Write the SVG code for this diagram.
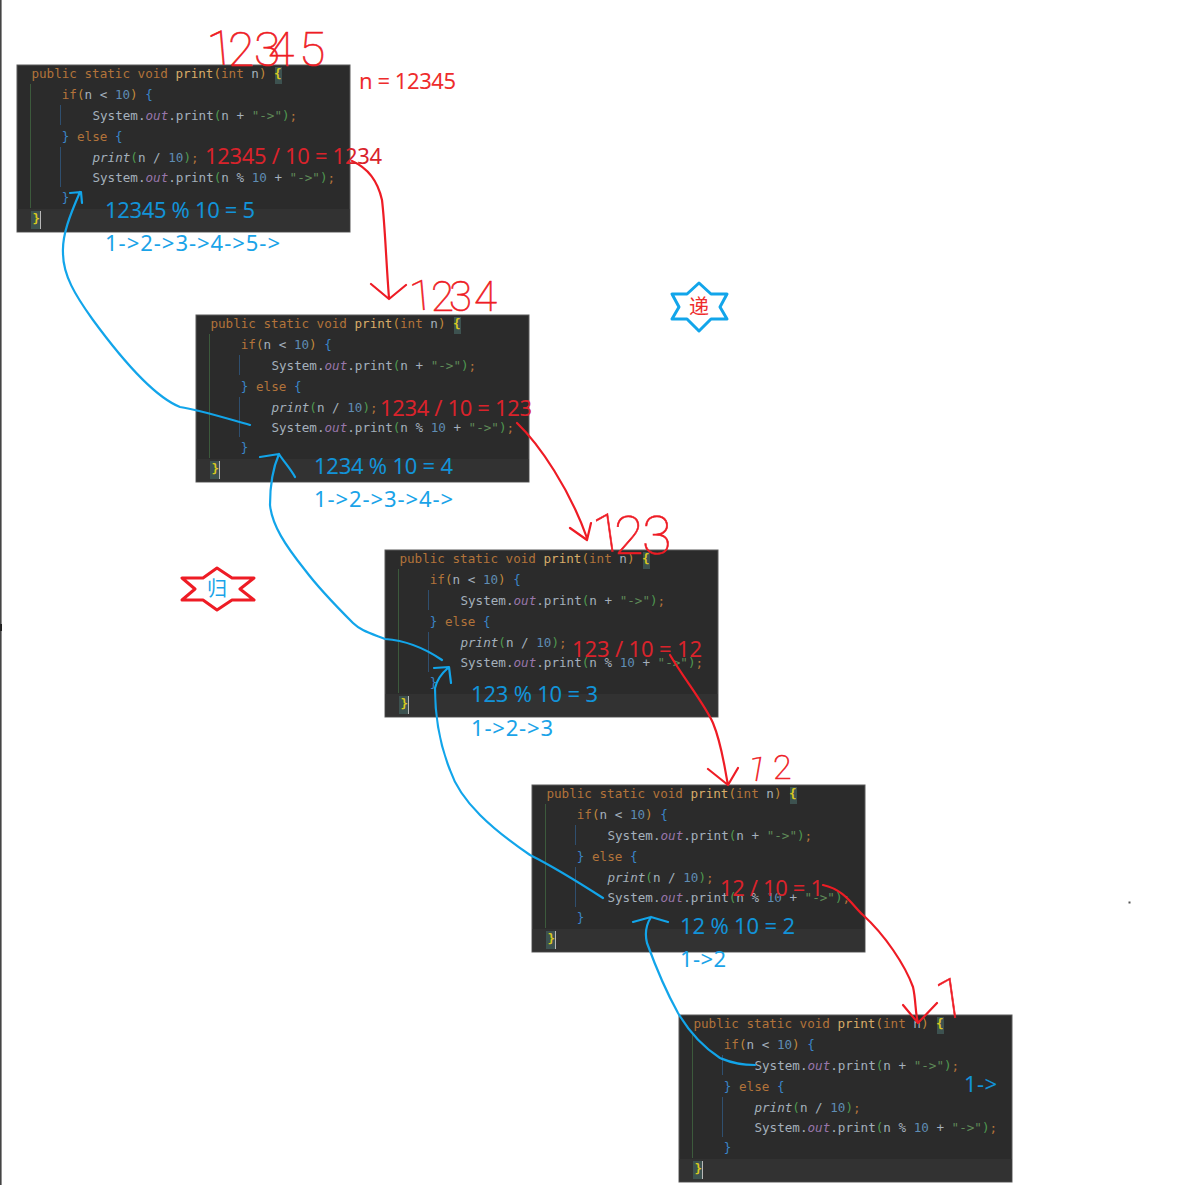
<svg xmlns="http://www.w3.org/2000/svg" width="1200" height="1185" viewBox="0 0 1200 1185">
<style>
.bg{fill:#2b2b2b;stroke:#5a5a5a;stroke-width:1}
.cur{fill:#323232}
.gg{stroke:#3c5a3c;stroke-width:1;fill:none}
.gb{stroke:#2f4f6f;stroke-width:1;fill:none}
.hl{fill:#3d5250}
.caret{stroke:#b8b8b8;stroke-width:1;fill:none}
.code{font-family:"DejaVu Sans Mono","Liberation Mono",monospace;font-size:12.6px;fill:#a4b0bc;transform:translate(.4px,-.7px)}
.k{fill:#b2733a}.f{fill:#d8ac68}.p{fill:#c08a3c}.n{fill:#5f8db4}.s{fill:#5f8a58}.b{fill:#3a85c8}.o{fill:#9876aa;font-style:italic}.g{fill:#4f9a50}.y{fill:#d8c820;font-weight:bold}.i{font-style:italic}
.note{font-family:"Noto Sans","Liberation Sans",sans-serif;font-size:22px}
.red{fill:#ee2c2c}.dred{fill:#d9232b}.blue{fill:#1aa3e8}.dblue{fill:#1293d8}
.hand{font-family:Roboto,"Liberation Sans",sans-serif;font-weight:100;fill:#ee1c25;stroke:#ee1c25;stroke-width:.6}
.rl{fill:none;stroke:#ee1c25;stroke-width:2.2;stroke-linecap:round;stroke-linejoin:round}
.bl{fill:none;stroke:#12a5ea;stroke-width:2.2;stroke-linecap:round;stroke-linejoin:round}
.star{font-family:"Noto Sans CJK SC",sans-serif;font-size:20px;text-anchor:middle}
</style>
<rect x="0" y="0" width="1200" height="1185" fill="#ffffff"/>
<rect x="0" y="0" width="1.6" height="1185" fill="#444444"/>
<rect x="0" y="624" width="2" height="7" fill="#222222"/>
<rect x="1128.5" y="901.5" width="2" height="2" fill="#555555"/>

<g id="box1">
<rect class="bg" x="17" y="65" width="333" height="167"/><rect class="cur" x="17.500" y="209" width="332" height="22.500"/>
<path class="gg" d="M30.500 84V208"/><path class="gb" d="M60.500 105V125M60.500 147V187"/>
<rect class="hl" x="275" y="67" width="7" height="17"/><rect class="hl" x="31" y="211" width="9" height="18"/><path class="caret" d="M40.500 211V229"/>
<text class="code" x="31" y="79" xml:space="preserve"><tspan class="k">public static void </tspan><tspan class="f">print</tspan><tspan class="p">(</tspan><tspan class="k">int</tspan> n<tspan class="p">)</tspan> <tspan class="y">{</tspan></text>
<text class="code" x="61.400" y="100"><tspan class="k">if</tspan><tspan class="p">(</tspan>n &lt; <tspan class="n">10</tspan><tspan class="p">)</tspan> <tspan class="b">{</tspan></text>
<text class="code" x="92" y="121">System.<tspan class="o">out</tspan>.print<tspan class="g">(</tspan>n + <tspan class="s">"-&gt;"</tspan><tspan class="g">)</tspan><tspan class="k">;</tspan></text>
<text class="code" x="61.400" y="142"><tspan class="b">}</tspan> <tspan class="k">else</tspan> <tspan class="b">{</tspan></text>
<text class="code" x="92" y="163"><tspan class="i">print</tspan><tspan class="g">(</tspan>n / <tspan class="n">10</tspan><tspan class="g">)</tspan><tspan class="k">;</tspan></text>
<text class="code" x="92" y="183">System.<tspan class="o">out</tspan>.print<tspan class="g">(</tspan>n % <tspan class="n">10</tspan> + <tspan class="s">"-&gt;"</tspan><tspan class="g">)</tspan><tspan class="k">;</tspan></text>
<text class="code" x="61.400" y="203"><tspan class="b">}</tspan></text>
<text class="code" x="32" y="224"><tspan class="y">}</tspan></text>
</g>

<g id="box2" transform="translate(179 250)">
<rect class="bg" x="17" y="65" width="333" height="167"/><rect class="cur" x="17.500" y="209" width="332" height="22.500"/>
<path class="gg" d="M30.500 84V208"/><path class="gb" d="M60.500 105V125M60.500 147V187"/>
<rect class="hl" x="275" y="67" width="7" height="17"/><rect class="hl" x="31" y="211" width="9" height="18"/><path class="caret" d="M40.500 211V229"/>
<text class="code" x="31" y="79" xml:space="preserve"><tspan class="k">public static void </tspan><tspan class="f">print</tspan><tspan class="p">(</tspan><tspan class="k">int</tspan> n<tspan class="p">)</tspan> <tspan class="y">{</tspan></text>
<text class="code" x="61.400" y="100"><tspan class="k">if</tspan><tspan class="p">(</tspan>n &lt; <tspan class="n">10</tspan><tspan class="p">)</tspan> <tspan class="b">{</tspan></text>
<text class="code" x="92" y="121">System.<tspan class="o">out</tspan>.print<tspan class="g">(</tspan>n + <tspan class="s">"-&gt;"</tspan><tspan class="g">)</tspan><tspan class="k">;</tspan></text>
<text class="code" x="61.400" y="142"><tspan class="b">}</tspan> <tspan class="k">else</tspan> <tspan class="b">{</tspan></text>
<text class="code" x="92" y="163"><tspan class="i">print</tspan><tspan class="g">(</tspan>n / <tspan class="n">10</tspan><tspan class="g">)</tspan><tspan class="k">;</tspan></text>
<text class="code" x="92" y="183">System.<tspan class="o">out</tspan>.print<tspan class="g">(</tspan>n % <tspan class="n">10</tspan> + <tspan class="s">"-&gt;"</tspan><tspan class="g">)</tspan><tspan class="k">;</tspan></text>
<text class="code" x="61.400" y="203"><tspan class="b">}</tspan></text>
<text class="code" x="32" y="224"><tspan class="y">}</tspan></text>
</g>

<g id="box3" transform="translate(368 485)">
<rect class="bg" x="17" y="65" width="333" height="167"/><rect class="cur" x="17.500" y="209" width="332" height="22.500"/>
<path class="gg" d="M30.500 84V208"/><path class="gb" d="M60.500 105V125M60.500 147V187"/>
<rect class="hl" x="275" y="67" width="7" height="17"/><rect class="hl" x="31" y="211" width="9" height="18"/><path class="caret" d="M40.500 211V229"/>
<text class="code" x="31" y="79" xml:space="preserve"><tspan class="k">public static void </tspan><tspan class="f">print</tspan><tspan class="p">(</tspan><tspan class="k">int</tspan> n<tspan class="p">)</tspan> <tspan class="y">{</tspan></text>
<text class="code" x="61.400" y="100"><tspan class="k">if</tspan><tspan class="p">(</tspan>n &lt; <tspan class="n">10</tspan><tspan class="p">)</tspan> <tspan class="b">{</tspan></text>
<text class="code" x="92" y="121">System.<tspan class="o">out</tspan>.print<tspan class="g">(</tspan>n + <tspan class="s">"-&gt;"</tspan><tspan class="g">)</tspan><tspan class="k">;</tspan></text>
<text class="code" x="61.400" y="142"><tspan class="b">}</tspan> <tspan class="k">else</tspan> <tspan class="b">{</tspan></text>
<text class="code" x="92" y="163"><tspan class="i">print</tspan><tspan class="g">(</tspan>n / <tspan class="n">10</tspan><tspan class="g">)</tspan><tspan class="k">;</tspan></text>
<text class="code" x="92" y="183">System.<tspan class="o">out</tspan>.print<tspan class="g">(</tspan>n % <tspan class="n">10</tspan> + <tspan class="s">"-&gt;"</tspan><tspan class="g">)</tspan><tspan class="k">;</tspan></text>
<text class="code" x="61.400" y="203"><tspan class="b">}</tspan></text>
<text class="code" x="32" y="224"><tspan class="y">}</tspan></text>
</g>

<g id="box4" transform="translate(515 720)">
<rect class="bg" x="17" y="65" width="333" height="167"/><rect class="cur" x="17.500" y="209" width="332" height="22.500"/>
<path class="gg" d="M30.500 84V208"/><path class="gb" d="M60.500 105V125M60.500 147V187"/>
<rect class="hl" x="275" y="67" width="7" height="17"/><rect class="hl" x="31" y="211" width="9" height="18"/><path class="caret" d="M40.500 211V229"/>
<text class="code" x="31" y="79" xml:space="preserve"><tspan class="k">public static void </tspan><tspan class="f">print</tspan><tspan class="p">(</tspan><tspan class="k">int</tspan> n<tspan class="p">)</tspan> <tspan class="y">{</tspan></text>
<text class="code" x="61.400" y="100"><tspan class="k">if</tspan><tspan class="p">(</tspan>n &lt; <tspan class="n">10</tspan><tspan class="p">)</tspan> <tspan class="b">{</tspan></text>
<text class="code" x="92" y="121">System.<tspan class="o">out</tspan>.print<tspan class="g">(</tspan>n + <tspan class="s">"-&gt;"</tspan><tspan class="g">)</tspan><tspan class="k">;</tspan></text>
<text class="code" x="61.400" y="142"><tspan class="b">}</tspan> <tspan class="k">else</tspan> <tspan class="b">{</tspan></text>
<text class="code" x="92" y="163"><tspan class="i">print</tspan><tspan class="g">(</tspan>n / <tspan class="n">10</tspan><tspan class="g">)</tspan><tspan class="k">;</tspan></text>
<text class="code" x="92" y="183">System.<tspan class="o">out</tspan>.print<tspan class="g">(</tspan>n % <tspan class="n">10</tspan> + <tspan class="s">"-&gt;"</tspan><tspan class="g">)</tspan><tspan class="k">;</tspan></text>
<text class="code" x="61.400" y="203"><tspan class="b">}</tspan></text>
<text class="code" x="32" y="224"><tspan class="y">}</tspan></text>
</g>

<g id="box5" transform="translate(662 950)">
<rect class="bg" x="17" y="65" width="333" height="167"/><rect class="cur" x="17.500" y="209" width="332" height="22.500"/>
<path class="gg" d="M30.500 84V208"/><path class="gb" d="M60.500 105V125M60.500 147V187"/>
<rect class="hl" x="275" y="67" width="7" height="17"/><rect class="hl" x="31" y="211" width="9" height="18"/><path class="caret" d="M40.500 211V229"/>
<text class="code" x="31" y="79" xml:space="preserve"><tspan class="k">public static void </tspan><tspan class="f">print</tspan><tspan class="p">(</tspan><tspan class="k">int</tspan> n<tspan class="p">)</tspan> <tspan class="y">{</tspan></text>
<text class="code" x="61.400" y="100"><tspan class="k">if</tspan><tspan class="p">(</tspan>n &lt; <tspan class="n">10</tspan><tspan class="p">)</tspan> <tspan class="b">{</tspan></text>
<text class="code" x="92" y="121">System.<tspan class="o">out</tspan>.print<tspan class="g">(</tspan>n + <tspan class="s">"-&gt;"</tspan><tspan class="g">)</tspan><tspan class="k">;</tspan></text>
<text class="code" x="61.400" y="142"><tspan class="b">}</tspan> <tspan class="k">else</tspan> <tspan class="b">{</tspan></text>
<text class="code" x="92" y="163"><tspan class="i">print</tspan><tspan class="g">(</tspan>n / <tspan class="n">10</tspan><tspan class="g">)</tspan><tspan class="k">;</tspan></text>
<text class="code" x="92" y="183">System.<tspan class="o">out</tspan>.print<tspan class="g">(</tspan>n % <tspan class="n">10</tspan> + <tspan class="s">"-&gt;"</tspan><tspan class="g">)</tspan><tspan class="k">;</tspan></text>
<text class="code" x="61.400" y="203"><tspan class="b">}</tspan></text>
<text class="code" x="32" y="224"><tspan class="y">}</tspan></text>
</g>

<g id="connectors">
<path class="rl" d="M352 161C368 168 378 182 382 200C385 225 386 260 389 298M371 284L389 299L406 285"/>
<path class="rl" d="M517 423C540 445 570 490 587 538M570 528L587 540L591 523"/>
<path class="rl" d="M670 655C685 680 705 705 713 723C722 745 724 765 728 785M708 769L728 785L738 768"/>
<path class="rl" d="M823 885C845 890 852 905 863 915C885 935 905 965 913 987C916 1000 915 1012 918 1023M903 1005L918 1023L937 1003"/>
<path class="bl" d="M250 425C225 418 200 410 180 407C150 395 115 350 93 320C75 295 63 275 63 253C62 235 70 215 80 192M70 193L81 192L82 203"/>
<path class="bl" d="M442 660C420 645 400 640 385 639C370 633 360 630 353 623C335 605 320 590 305 570C285 545 272 525 270 505C270 485 272 470 279 454M260 457L279 454C284 462 290 468 295 477"/>
<path class="bl" d="M603 898C575 880 550 865 530 855C505 838 490 825 480 815C465 800 455 785 450 770C440 745 435 720 435 688C437 680 442 673 448 668M434 668L449 667L451 683"/>
<path class="bl" d="M755 1065C735 1065 725 1060 720 1058C700 1045 688 1030 678 1013C668 995 655 965 647 943C645 935 646 925 651 917M633 922L651 917L668 922"/>
</g>

<g id="annotations">
<text class="note red" x="359" y="89" textLength="97">n = 12345</text>
<text class="note dred" x="205" y="164" textLength="177">12345 / 10 = 1234</text>
<text class="note dblue" x="105" y="218" textLength="150">12345 % 10 = 5</text>
<text class="note blue" x="105" y="251" textLength="175">1-&gt;2-&gt;3-&gt;4-&gt;5-&gt;</text>
<text class="note dred" x="380" y="416" textLength="152">1234 / 10 = 123</text>
<text class="note dblue" x="314" y="474" textLength="139">1234 % 10 = 4</text>
<text class="note blue" x="314" y="507" textLength="139">1-&gt;2-&gt;3-&gt;4-&gt;</text>
<text class="note dred" x="572" y="657" textLength="130">123 / 10 = 12</text>
<text class="note dblue" x="471" y="702" textLength="127">123 % 10 = 3</text>
<text class="note blue" x="471" y="736" textLength="82">1-&gt;2-&gt;3</text>
<text class="note dred" x="720" y="896" textLength="103">12 / 10 = 1</text>
<text class="note dblue" x="680" y="934" textLength="115">12 % 10 = 2</text>
<text class="note blue" x="680" y="967" textLength="46">1-&gt;2</text>
<text class="note dblue" x="964" y="1092" textLength="33">1-&gt;</text>
<text class="hand" font-size="48" x="209 228 254 268 299" y="66" rotate="-5 0 0 0 0">12345</text>
<text class="hand" font-size="42" x="411 431 449 474" y="311" rotate="-5 0 0 0">1234</text>
<text class="hand" font-size="54" x="596 614 642" y="554" rotate="-8 0 0">123</text>
<text class="hand" font-size="34" x="746 773" y="779" rotate="10 0">12</text>
<text class="hand" font-size="56" x="938" y="1020" rotate="-8">1</text>
</g>

<g id="star-di">
<path d="M699 283L711 294H727L720 307L727 319H711L699 331L687 319H672L679 307L672 294H687Z" fill="none" stroke="#12a5ea" stroke-width="3" stroke-linejoin="round"/>
<text class="star red" x="699" y="314">递</text>
</g>
<g id="star-gui">
<path d="M217 568L232 578H254L240 589L254 600H232L217 610L203 600H182L195 589L182 578H203Z" fill="none" stroke="#ee1c25" stroke-width="3" stroke-linejoin="round"/>
<text class="star blue" x="217" y="596">归</text>
</g>
</svg>
